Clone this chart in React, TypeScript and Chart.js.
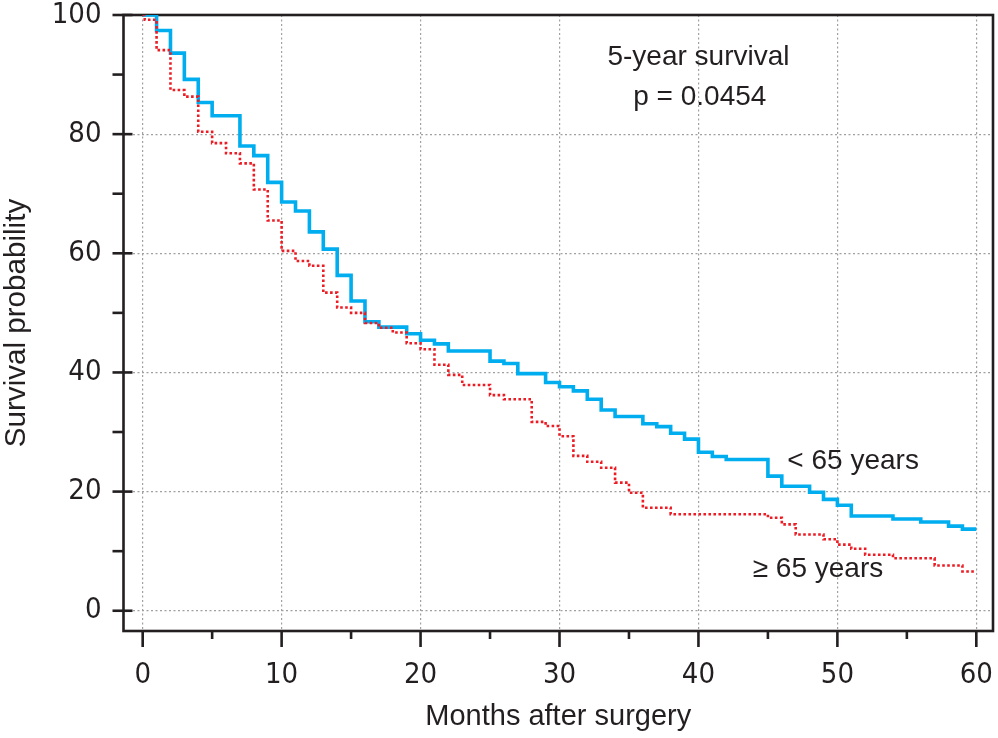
import React, { useEffect, useRef } from "react";
import { Chart, registerables } from "chart.js";

Chart.register(...registerables);

// Kaplan–Meier step curves (event time in months, survival % after the step)
const youngMonths = [0, 1, 2, 3, 4, 5, 7, 8, 9, 10, 11, 12, 13, 14, 15, 16, 17, 19, 20, 21, 22, 25, 26, 27, 29, 30, 31, 32, 33, 34, 36, 37, 38, 39, 40, 41, 42, 45, 46, 48, 49, 50, 51, 54, 56, 58, 59, 60];
const youngSurv = [100, 97.4, 93.6, 89.2, 85.3, 83.1, 78.0, 76.4, 71.9, 68.6, 67.1, 63.6, 60.7, 56.3, 52.0, 48.5, 47.6, 46.5, 45.4, 44.8, 43.6, 41.9, 41.5, 39.8, 38.3, 37.6, 36.9, 35.5, 33.7, 32.6, 31.4, 30.9, 29.8, 28.8, 26.6, 25.9, 25.4, 22.6, 20.9, 19.9, 18.7, 17.7, 15.9, 15.4, 14.9, 14.2, 13.7, 13.7];

const oldMonths = [0, 0.15, 1, 2, 3, 4, 5, 6, 7, 8, 9, 10, 11, 12, 13, 14, 15, 16, 17, 18, 19, 20, 21, 22, 23, 25, 26, 28, 29, 30, 31, 32, 33, 34, 35, 36, 38, 45, 46, 47, 49, 50, 51, 52, 54, 57, 59, 60];
const oldSurv = [100, 99.2, 94.1, 87.4, 86.3, 80.4, 78.5, 76.8, 75.1, 70.7, 65.5, 60.4, 58.7, 57.9, 53.4, 50.9, 50.0, 48.3, 47.5, 46.7, 44.9, 43.9, 41.3, 39.6, 37.9, 36.2, 35.5, 31.7, 31.0, 29.3, 26.0, 25.0, 24.0, 21.5, 19.8, 17.3, 16.2, 15.6, 14.5, 12.8, 12.0, 11.1, 10.4, 9.4, 8.8, 7.6, 6.6, 6.6];

const xTicks = [0, 5, 10, 15, 20, 25, 30, 35, 40, 45, 50, 55, 60];
const yTicks = [0, 10, 20, 30, 40, 50, 60, 70, 80, 90, 100];
const xLabelStep = 10;
const yLabelStep = 20;

const xTitle = "Months after surgery";
const yTitle = "Survival probability";
const noteLine1 = "5-year survival";
const noteLine2 = "p = 0.0454";
const youngLabel = "< 65 years";
const oldLabel = "\u2265 65 years";

const BLUE = "#00AEEF";
const RED = "#ED1C24";
const INK = "#231F20";
const GRID = "#a0a0a0";
const TEXT_FONT = "'Liberation Sans', Arial, sans-serif";
const TICK_FONT = "'Liberation Sans Narrow', 'DejaVu Sans Condensed', sans-serif";

const toPoints = (xs: number[], ys: number[]) => xs.map((x, i) => ({ x, y: ys[i] }));

const framePlugin = {
  id: "frame",
  beforeDatasetsDraw(chart: any) {
    const { ctx, chartArea: a, scales } = chart;
    const x = scales.x;
    const y = scales.y;
    ctx.save();
    ctx.strokeStyle = INK;
    ctx.lineWidth = 2.6;
    ctx.lineCap = "square";
    ctx.strokeRect(a.left, a.top, a.right - a.left, a.bottom - a.top);
    ctx.lineCap = "butt";
    xTicks.forEach((v) => {
      const px = x.getPixelForValue(v);
      const len = v % xLabelStep === 0 ? 16 : 8;
      ctx.beginPath();
      ctx.moveTo(px, a.bottom);
      ctx.lineTo(px, a.bottom + len);
      ctx.stroke();
    });
    yTicks.forEach((v) => {
      const py = y.getPixelForValue(v);
      const major = v % yLabelStep === 0;
      ctx.beginPath();
      ctx.moveTo(a.left - 11, py);
      ctx.lineTo(a.left + (major ? 9 : 0), py);
      ctx.stroke();
    });
    ctx.restore();
  },
  afterDraw(chart: any) {
    const { ctx, scales } = chart;
    const x = scales.x;
    const y = scales.y;
    ctx.save();
    ctx.fillStyle = INK;
    ctx.font = `28px ${TEXT_FONT}`;
    ctx.textBaseline = "alphabetic";
    ctx.textAlign = "center";
    ctx.fillText(noteLine1, x.getPixelForValue(40.0), y.getPixelForValue(91.6));
    ctx.fillText(noteLine2, x.getPixelForValue(40.1), y.getPixelForValue(84.9));
    ctx.textAlign = "left";
    ctx.fillText(youngLabel, x.getPixelForValue(46.4), y.getPixelForValue(23.8));
    ctx.textAlign = "right";
    ctx.fillText(oldLabel, x.getPixelForValue(53.3), y.getPixelForValue(5.7));
    ctx.restore();
  },
};

export default function App() {
  const ref = useRef<HTMLCanvasElement | null>(null);

  useEffect(() => {
    document.body.style.margin = "0";
    const canvas = ref.current;
    if (!canvas) return;
    const chart = new Chart(canvas, {
      type: "line",
      data: {
        datasets: [
          {
            label: oldLabel,
            data: toPoints(oldMonths, oldSurv),
            borderColor: RED,
            borderWidth: 2.6,
            borderDash: [2.6, 2.4],
            borderCapStyle: "butt",
            stepped: "before",
            pointRadius: 0,
            fill: false,
          },
          {
            label: youngLabel,
            data: toPoints(youngMonths, youngSurv),
            borderColor: BLUE,
            borderWidth: 3.6,
            borderCapStyle: "butt",
            borderJoinStyle: "miter",
            stepped: "before",
            pointRadius: 0,
            fill: false,
          },
        ],
      },
      options: {
        animation: false,
        responsive: false,
        devicePixelRatio: 1,
        layout: { padding: { top: 15, right: 5, left: 0, bottom: 0 } },
        plugins: { legend: { display: false }, tooltip: { enabled: false } },
        scales: {
          x: {
            type: "linear",
            min: -1.38,
            max: 61.2,
            afterBuildTicks: (s: any) => {
              s.ticks = xTicks.map((v) => ({ value: v }));
            },
            afterFit: (s: any) => {
              s.height = 107;
              s.paddingLeft = 0;
              s.paddingRight = 0;
            },
            ticks: {
              autoSkip: false,
              maxRotation: 0,
              padding: 27,
              color: INK,
              font: { family: TICK_FONT, size: 29, lineHeight: 1.2 },
              callback: (v: any) => (Number(v) % xLabelStep === 0 ? String(v) : ""),
            },
            grid: {
              drawTicks: false,
              lineWidth: 1.2,
              color: (c: any) => (c.tick && c.tick.value % xLabelStep === 0 ? GRID : "rgba(0,0,0,0)"),
            },
            border: { display: false, dash: [2, 2.5] },
            title: {
              display: true,
              text: xTitle,
              color: INK,
              font: { family: TEXT_FONT, size: 29, lineHeight: 1 },
              padding: { top: 0, bottom: 6.5 },
            },
          },
          y: {
            type: "linear",
            min: -3.4,
            max: 100,
            afterBuildTicks: (s: any) => {
              s.ticks = yTicks.map((v) => ({ value: v }));
            },
            afterFit: (s: any) => {
              s.width = 123.5;
              s.paddingTop = 0;
              s.paddingBottom = 0;
            },
            ticks: {
              autoSkip: false,
              padding: 22,
              color: INK,
              font: { family: TICK_FONT, size: 29, lineHeight: 1.2 },
              callback: (v: any) => (Number(v) % yLabelStep === 0 ? String(v) : ""),
            },
            grid: {
              drawTicks: false,
              lineWidth: 1.2,
              color: (c: any) => (c.tick && c.tick.value % yLabelStep === 0 ? GRID : "rgba(0,0,0,0)"),
            },
            border: { display: false, dash: [2, 2.5] },
            title: {
              display: true,
              text: yTitle,
              color: INK,
              font: { family: TEXT_FONT, size: 29.6, lineHeight: 1 },
              padding: { top: 2, bottom: 0 },
            },
          },
        },
      },
      plugins: [framePlugin],
    } as any);
    return () => chart.destroy();
  }, []);

  return (
    <div style={{ width: 998, height: 738, background: "#fff" }}>
      <canvas ref={ref} width={998} height={738} style={{ display: "block" }} />
    </div>
  );
}
